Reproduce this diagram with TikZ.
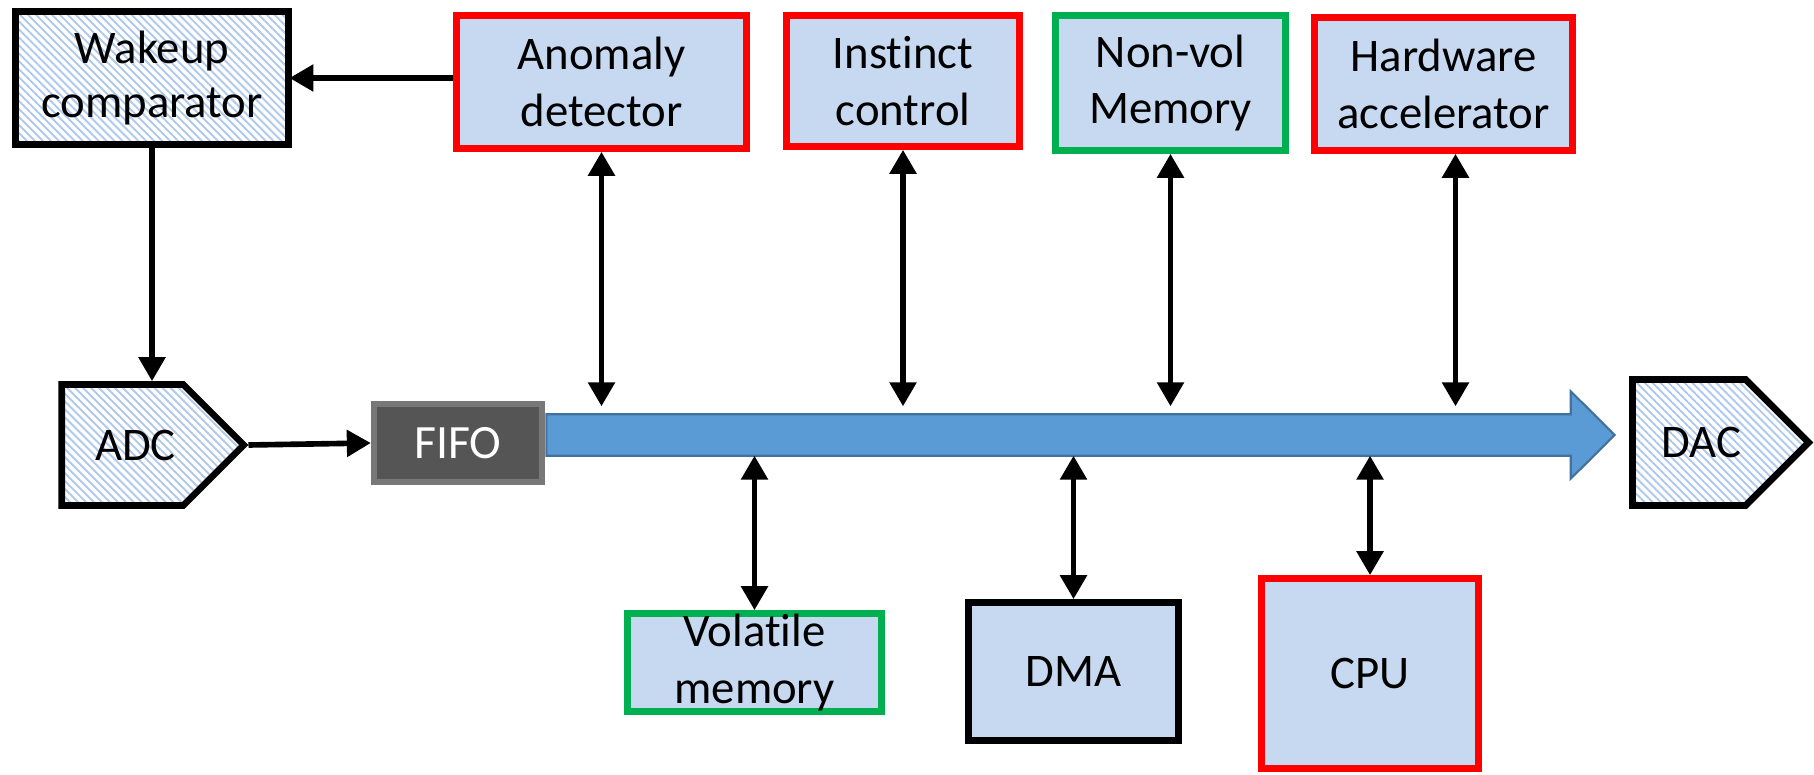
\documentclass[tikz,border=0pt]{standalone}
\usepackage{fontspec}
\setmainfont{Carlito}[Ligatures=NoCommon]
\usetikzlibrary{arrows.meta, shapes.symbols, patterns.meta}

\definecolor{boxfill}{RGB}{198,217,240}
\definecolor{hatch}{RGB}{176,201,236}
\definecolor{pptred}{RGB}{255,0,0}
\definecolor{pptgreen}{RGB}{0,176,80}
\definecolor{busfill}{RGB}{91,155,213}
\definecolor{busline}{RGB}{65,113,156}
\definecolor{fifofill}{RGB}{85,85,85}
\definecolor{fifoline}{RGB}{120,120,120}

\tikzset{
  blk/.style={draw, line width=1.9pt, fill=boxfill, align=center, inner sep=0pt,
    font=\fontsize{13.3}{16}\selectfont},
  redblk/.style={blk, draw=pptred},
  greenblk/.style={blk, draw=pptgreen},
  hatched/.style={blk, pattern={Lines[angle=-45,distance=1.6pt,line width=0.55pt]}, pattern color=hatch},
  converter/.style={hatched, signal, signal to=east, signal pointer angle=90},
  fifo/.style={draw=fifoline, line width=1.8pt, fill=fifofill, text=white, inner sep=0pt,
    font=\fontsize{13.6}{16}\selectfont},
  link/.style={line width=1.6pt, -{Triangle[length=0.24cm,width=0.26cm]}},
  duplex/.style={line width=1.6pt, {Triangle[length=0.24cm,width=0.26cm]}-{Triangle[length=0.24cm,width=0.26cm]}}
}

\begin{document}
\begin{tikzpicture}
\useasboundingbox (0,0) rectangle (18.14,-7.74);
\fill[white] (0,0) rectangle (18.14,-7.74);

% Blocks on top of the bus
\node[hatched, minimum width=2.73cm, minimum height=1.33cm, font=\fontsize{13.3}{15.2}\selectfont] (wake) at (1.52,-0.78) {Wakeup\\comparator};
\node[redblk, minimum width=2.90cm, minimum height=1.33cm] (anom) at (6.015,-0.82) {Anomaly\\detector};
\node[redblk, minimum width=2.33cm, minimum height=1.31cm] (inst) at (9.03,-0.81) {Instinct\\control};
\node[greenblk, minimum width=2.30cm, minimum height=1.35cm] (nvm) at (11.705,-0.83) {Non-vol\\Memory};
\node[redblk, minimum width=2.58cm, minimum height=1.33cm] (hw) at (14.435,-0.84) {Hardware\\accelerator};

% Converters, FIFO and the bus
\node[converter, minimum width=1.82cm, minimum height=1.21cm] (adc) at (1.225,-4.45) {\hspace*{0.26cm}ADC};
\node[fifo, minimum width=1.68cm, minimum height=0.78cm] (fifo) at (4.58,-4.43) {FIFO};
\node[inner sep=0pt, minimum width=10.23cm, minimum height=0.40cm] (bus) at (10.585,-4.35) {};
\draw[busline, fill=busfill, line width=0.6pt] (bus.south west) -- (bus.north west) -- (bus.north east)
  -- ([yshift=0.23cm]bus.north east) -- ([xshift=0.44cm]bus.east)
  -- ([yshift=-0.23cm]bus.south east) -- (bus.south east) -- cycle;
\node[converter, minimum width=1.76cm, minimum height=1.26cm] (dac) at (16.89,-4.425) {\hspace*{0.24cm}DAC};

% Blocks below the bus
\node[greenblk, minimum width=2.54cm, minimum height=0.98cm] (vol) at (7.545,-6.625) {Volatile\\memory};
\node[blk, minimum width=2.10cm, minimum height=1.38cm] (dma) at (10.735,-6.715) {DMA};
\node[redblk, minimum width=2.17cm, minimum height=1.90cm] (cpu) at (13.70,-6.735) {CPU};

% Signal path
\draw[link] (anom.west |- wake.east) -- (wake.east);
\draw[link] (wake.south) -- (wake.south |- adc.north);
\draw[link] (adc.east) -- (fifo.west);

% Bus connections
\foreach \blk in {anom, inst, nvm}
  \draw[duplex, shorten >=0.08cm] (\blk.south) -- (\blk.south |- bus.north);
\draw[duplex, shorten >=0.08cm] ([xshift=0.12cm]hw.south) -- ([xshift=0.12cm]hw.south |- bus.north);
\foreach \blk in {vol, dma, cpu}
  \draw[duplex] (\blk.north |- bus.south) -- (\blk.north);
\end{tikzpicture}
\end{document}
